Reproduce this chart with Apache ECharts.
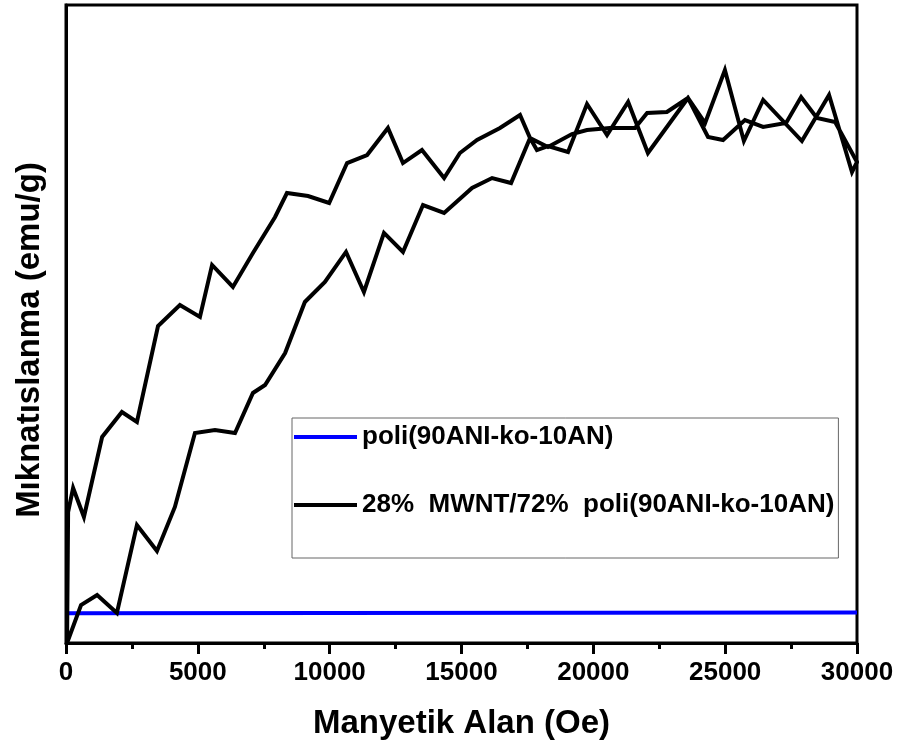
<!DOCTYPE html>
<html>
<head>
<meta charset="utf-8">
<script src="https://cdn.jsdelivr.net/npm/echarts@6/dist/echarts.min.js"></script>
<style>
html,body{margin:0;padding:0;background:#fff;}
#chart{width:900px;height:753px;}
</style>
</head>
<body>
<div id="chart"></div>
<script>
// Tick labels of x axis
const xTicks = [0, 5000, 10000, 15000, 20000, 25000, 30000];
// Series names
const seriesNames = ['poli(90ANI-ko-10AN)', '28%  MWNT/72%  poli(90ANI-ko-10AN)'];

// poli(90ANI-ko-10AN) (blue)
const polyField = [80, 10000, 20000, 30000];
const polyMag = [4.65, 4.72, 4.76, 4.8];

// 28% MWNT composite, increasing field branch
const upField = [40, 570, 1180, 1930, 2690, 3450, 4130, 4890, 5650, 6410, 7090, 7550, 8310, 9060, 9820,
  10620, 11300, 12060, 12780, 13540, 14340, 15400, 16160, 16880, 17600, 17860, 18280, 19040, 19760, 20520,
  21320, 22070, 23590, 24240, 24990, 25710, 26440, 27910, 28940, 29810, 30000];
const upMag = [0, 5.96, 7.52, 4.70, 18.50, 14.42, 21.32, 32.92, 33.39, 32.92, 39.19, 40.44, 45.45, 53.45, 56.58,
  61.29, 55.02, 64.28, 61.29, 68.65, 67.40, 71.32, 72.88, 72.10, 79.15, 77.27, 77.90, 76.96, 84.48, 79.62,
  84.80, 76.80, 85.42, 81.50, 89.81, 78.68, 85.11, 78.68, 85.89, 73.82, 75.39];

// 28% MWNT composite, decreasing field branch
const downField = [29170, 28480, 27880, 27310, 26440, 25750, 24920, 24350, 23590, 22790, 22040, 21580, 20630, 19760, 19190,
  18280, 17600, 17220, 16460, 15590, 14940, 14340, 13500, 12780, 12210, 11420, 10660, 9980, 9180, 8380,
  7930, 7090, 6330, 5540, 5080, 4320, 3490, 2690, 2120, 1370, 680, 270, 80, 40];
const downMag = [81.66, 82.29, 85.58, 81.50, 80.88, 81.97, 78.84, 79.31, 85.42, 83.23, 83.07, 80.72, 80.72, 80.41, 79.78,
  77.74, 79.15, 82.76, 80.72, 78.84, 76.80, 72.88, 77.27, 75.23, 80.72, 76.49, 75.23, 68.97, 70.06, 70.53,
  66.77, 61.13, 55.80, 59.25, 51.10, 52.98, 49.69, 34.64, 36.21, 32.29, 19.75, 24.29, 20.53, 0];

const FONT = '"Liberation Sans", Arial, sans-serif';
const pair = (xs, ys) => xs.map((x, i) => [x, ys[i]]);
const blueData = pair(polyField, polyMag);
const blackData = pair(upField, upMag).concat(pair(downField, downMag));

const chart = echarts.init(document.getElementById('chart'), null, {renderer: 'canvas'});
chart.setOption({
  animation: false,
  backgroundColor: '#fff',
  grid: {left: 66, right: 43, top: 5, bottom: 110, show: true, borderColor: '#000', borderWidth: 3, backgroundColor: 'transparent'},
  legend: {
    left: 292, top: 418, width: 551, height: 140,
    orient: 'vertical',
    selectedMode: false,
    backgroundColor: '#fff',
    borderColor: '#666', borderWidth: 1,
    padding: [6, 4, 40, 2],
    itemGap: 42,
    itemWidth: 63, itemHeight: 4,
    icon: 'rect',
    textStyle: {fontFamily: FONT, fontWeight: 'bold', fontSize: 26, color: '#000', lineHeight: 26},
    data: seriesNames
  },
  xAxis: {
    type: 'value', min: xTicks[0], max: xTicks[xTicks.length - 1], interval: xTicks[1] - xTicks[0],
    name: 'Manyetik Alan (Oe)', nameLocation: 'middle', nameGap: 64,
    nameTextStyle: {fontFamily: FONT, fontWeight: 'bold', fontSize: 33, color: '#000'},
    axisLine: {lineStyle: {color: '#000', width: 3}},
    axisTick: {show: true, inside: false, length: 11, lineStyle: {color: '#000', width: 3}},
    minorTick: {show: true, splitNumber: 2, length: 6, lineStyle: {color: '#000', width: 3}},
    axisLabel: {fontFamily: FONT, fontWeight: 'bold', fontSize: 26, color: '#000', margin: 17,
      formatter: v => String(v)},
    splitLine: {show: false}
  },
  yAxis: {
    type: 'value', min: 0, max: 100,
    name: 'Mıknatıslanma (emu/g)', nameLocation: 'middle', nameGap: 20,
    nameTextStyle: {fontFamily: FONT, fontWeight: 'bold', fontSize: 33, color: '#000', padding: [0, 32, 0, 0]},
    axisLine: {show: true, lineStyle: {color: '#000', width: 3}},
    axisTick: {show: false},
    axisLabel: {show: false},
    splitLine: {show: false}
  },
  series: [
    {name: seriesNames[0], type: 'line', data: blueData, showSymbol: false, symbol: 'none',
     lineStyle: {color: '#0000ff', width: 4}, itemStyle: {color: '#0000ff'}, z: 2},
    {name: seriesNames[1], type: 'line', data: blackData, showSymbol: false, symbol: 'none',
     lineStyle: {color: '#000', width: 4, join: 'miter'}, itemStyle: {color: '#000'}, z: 3}
  ]
});
</script>
</body>
</html>
